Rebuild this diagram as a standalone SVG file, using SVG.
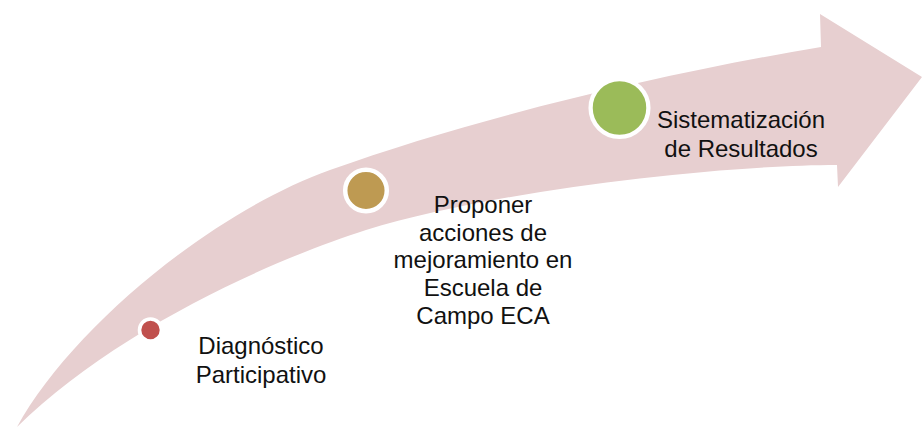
<svg xmlns="http://www.w3.org/2000/svg" width="923" height="427" viewBox="0 0 923 427">
<style>
.lbl{font-family:"Liberation Sans",Arial,sans-serif;font-size:24px;fill:#111;text-anchor:middle}
.dot{stroke:#fff;}
</style>
<rect width="923" height="427" fill="#fff"/>
<g id="connectors">
<path id="arrow" fill="#E7CFD0" d="M17,427 C70,330 210,213 330,170 C480,116 671,72 821,47 L820,14 L922,77 L838,187 L837,165 C720,165 496,190 366,230 C266,262 112,333 17,427 Z"/>
</g>
<g id="node1">
<circle class="dot" cx="150.5" cy="330" r="11" fill="#C0504D" stroke-width="3.6"/>
<text class="lbl" x="261" y="354">Diagnóstico</text>
<text class="lbl" x="261" y="383">Participativo</text>
</g>
<g id="node2">
<circle class="dot" cx="366" cy="190.5" r="20.8" fill="#BE9A52" stroke-width="4.5"/>
<text class="lbl" x="483" y="213">Proponer</text>
<text class="lbl" x="483" y="241">acciones de</text>
<text class="lbl" x="483" y="268">mejoramiento en</text>
<text class="lbl" x="483" y="296">Escuela de</text>
<text class="lbl" x="483" y="324">Campo ECA</text>
</g>
<g id="node3">
<circle class="dot" cx="619.5" cy="108" r="28.9" fill="#9BBB59" stroke-width="4.3"/>
<text class="lbl" x="741" y="128">Sistematización</text>
<text class="lbl" x="741" y="157">de Resultados</text>
</g>
</svg>
